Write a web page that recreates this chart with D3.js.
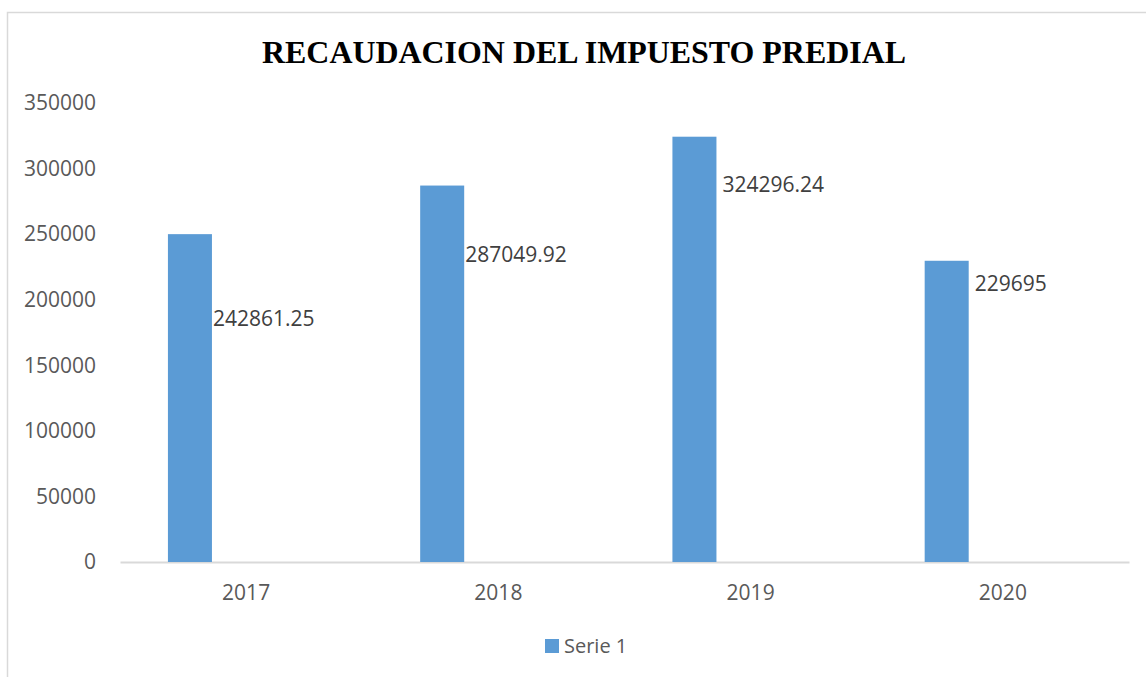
<!DOCTYPE html>
<html>
<head>
<meta charset="utf-8">
<script src="https://cdn.jsdelivr.net/npm/d3@7"></script>
<style>
  body { margin: 0; background: #fff; }
  svg { display: block; }
</style>
</head>
<body>
<svg id="chart" width="1146" height="677"></svg>
<script>
// data
var categories = ['2017', '2018', '2019', '2020'];
var values = [250000, 287049.92, 324296.24, 229695];
var valueLabels = ['242861.25', '287049.92', '324296.24', '229695'];
var yTicks = [0, 50000, 100000, 150000, 200000, 250000, 300000, 350000];
var seriesName = 'Serie 1';
var title = 'RECAUDACION DEL IMPUESTO PREDIAL';

// label nudges (dx, dy from bar top), as placed in the original
var labelNudge = [[1, 92], [1, 76], [6, 55], [6, 30]];

var svg = d3.select('#chart')
  , margin = {left: 120, right: 17, top: 103, bottom: 115}
  , width = 1146 - margin.left - margin.right
  , height = 677 - margin.top - margin.bottom
  , barColor = '#5b9bd5'
  , textFont = '"Open Sans", "Noto Sans", sans-serif';

// frame
svg.append('path')
  .attr('d', 'M7.5,677 V12.5 H1146')
  .attr('fill', 'none')
  .attr('stroke', '#d9d9d9')
  .attr('stroke-width', 1.5);

svg.append('text')
  .attr('x', 584)
  .attr('y', 63)
  .attr('text-anchor', 'middle')
  .attr('textLength', 644)
  .attr('lengthAdjust', 'spacingAndGlyphs')
  .style('font', 'bold 31px "Liberation Serif", "Times New Roman", serif')
  .style('fill', '#000')
  .text(title);

var g = svg.append('g').attr('transform', 'translate(' + margin.left + ',' + margin.top + ')');

var x = d3.scaleBand().domain(categories).range([0, width]);
var y = d3.scaleLinear().domain([0, 350000]).range([height, 0]);

var bw = x.bandwidth()
  , barOffset = bw * 0.19
  , barWidth = bw * 0.1745;

// y axis, no line, labels only
var yAxis = d3.axisLeft(y).tickValues(yTicks).tickSize(0).tickPadding(24).tickFormat(d3.format('d'));
g.append('g').attr('class', 'y axis').call(yAxis)
  .call(s => s.select('.domain').remove())
  .selectAll('text')
  .style('font', '21px ' + textFont)
  .style('fill', '#595959');

// x axis
var xAxis = d3.axisBottom(x).tickSize(0).tickPadding(23);
g.append('g').attr('class', 'x axis')
  .attr('transform', 'translate(0,' + height + ')')
  .call(xAxis)
  .call(s => s.select('.domain').attr('stroke', '#d9d9d9').attr('stroke-width', 2))
  .selectAll('text')
  .style('font', '21px ' + textFont)
  .style('fill', '#595959');

g.selectAll('rect.bar')
  .data(values)
  .enter().append('rect')
  .attr('class', 'bar')
  .attr('x', (d, i) => x(categories[i]) + barOffset)
  .attr('width', barWidth)
  .attr('y', d => y(d))
  .attr('height', d => height - y(d))
  .attr('fill', barColor);

g.selectAll('text.vlabel')
  .data(values)
  .enter().append('text')
  .attr('class', 'vlabel')
  .attr('x', (d, i) => x(categories[i]) + barOffset + barWidth + labelNudge[i][0])
  .attr('y', (d, i) => y(d) + labelNudge[i][1])
  .style('font', '21px ' + textFont)
  .style('fill', '#404040')
  .text((d, i) => valueLabels[i]);

// legend
var legend = svg.append('g').attr('transform', 'translate(545,639)');
legend.append('rect')
  .attr('width', 14)
  .attr('height', 14)
  .attr('fill', barColor);
legend.append('text')
  .attr('x', 19)
  .attr('y', 14)
  .style('font', '20px ' + textFont)
  .style('fill', '#595959')
  .text(seriesName);
</script>
</body>
</html>
